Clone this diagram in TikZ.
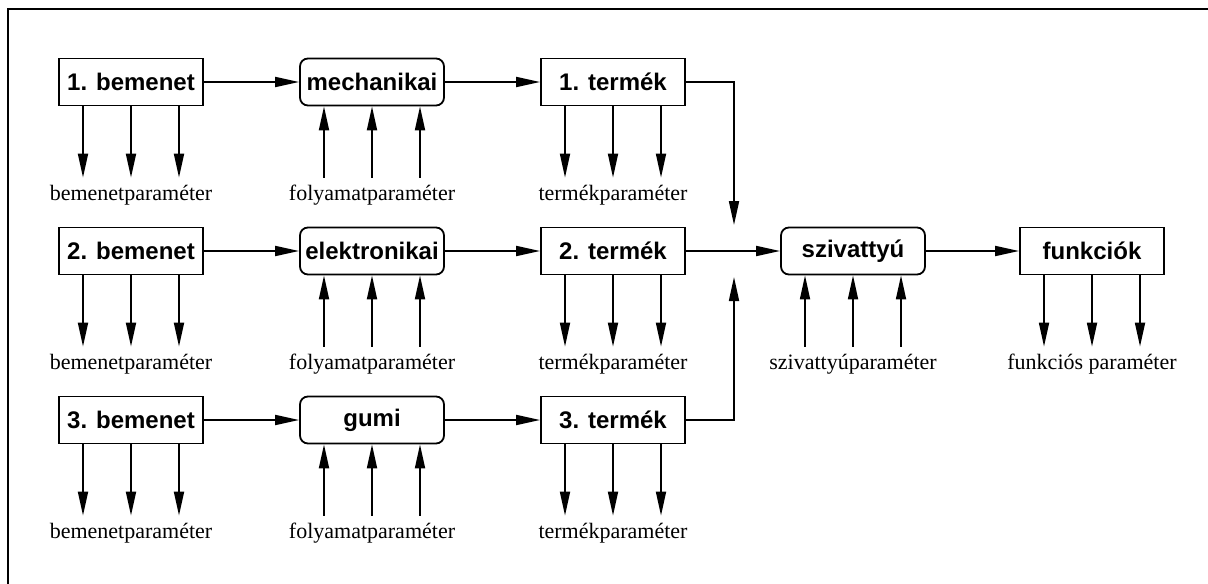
\documentclass[tikz,border=0pt]{standalone}
\usepackage{fontspec}
\setmainfont{Liberation Serif}
\setsansfont{Liberation Sans}
\usetikzlibrary{arrows.meta, positioning}

\begin{document}
\begin{tikzpicture}[x=0.5pt, y=-0.5pt,
    box/.style={draw, line width=0.9pt, minimum width=72pt, minimum height=23.5pt, inner sep=0pt, font=\sffamily\bfseries\fontsize{12}{14}\selectfont},
    proc/.style={box, rounded corners=4pt},
    param/.style={anchor=base, inner sep=4pt, text height=7pt, font=\fontsize{11}{13}\selectfont},
    arr/.style={line width=0.9pt, -{Triangle[length=12pt, width=5pt]}}]
    \useasboundingbox (0,0) rectangle (1208,583);

    % Frame (only the top and left edges are on the page)
    \draw[line width=1pt] (8,9) rectangle (1260,640);

    % Three input -> process -> product chains
    \foreach \r/\y/\p in {1/82/mechanikai, 2/251/elektronikai, 3/420/gumi} {
        \node[box] (be\r) at (131,\y) {\r. bemenet};
        \node[proc] (pr\r) at (372,\y) {\p};
        \node[box] (te\r) at (613,\y) {\r. termék};

        \node[param] (bp\r) at (131,\y+118) {bemenetparaméter};
        \node[param] (fp\r) at (372,\y+118) {folyamatparaméter};
        \node[param] (tp\r) at (613,\y+118) {termékparaméter};

        \draw[arr] (be\r) -- (pr\r);
        \draw[arr] (pr\r) -- (te\r);
        \foreach \dx in {-24,0,24} {
            \draw[arr] ([xshift=\dx pt]be\r.south) -- ([xshift=\dx pt]bp\r.north);
            \draw[arr] ([xshift=\dx pt]fp\r.north) -- ([xshift=\dx pt]pr\r.south);
            \draw[arr] ([xshift=\dx pt]te\r.south) -- ([xshift=\dx pt]tp\r.north);
        }
    }

    % Pump and functions
    \node[proc] (sz) at (853,251) {szivattyú};
    \node[box] (fu) at (1092,251) {funkciók};
    \node[param] (sp) at (853,369) {szivattyúparaméter};
    \node[param] (fup) at (1092,369) {funkciós paraméter};

    \coordinate (j1) at (734,225);
    \coordinate (j3) at (734,277);
    \draw[arr] (te1) -| (j1);
    \draw[arr] (te3) -| (j3);
    \draw[arr] (te2) -- (sz);
    \draw[arr] (sz) -- (fu);
    \foreach \dx in {-24,0,24} {
        \draw[arr] ([xshift=\dx pt]sp.north) -- ([xshift=\dx pt]sz.south);
        \draw[arr] ([xshift=\dx pt]fu.south) -- ([xshift=\dx pt]fup.north);
    }
\end{tikzpicture}
\end{document}
